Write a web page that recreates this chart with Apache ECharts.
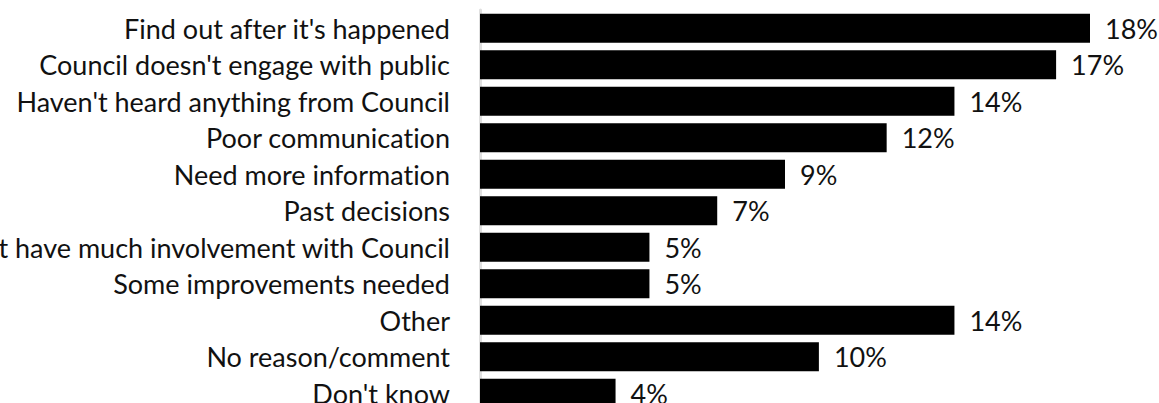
<!DOCTYPE html>
<html>
<head>
<meta charset="utf-8">
<script src="https://cdn.jsdelivr.net/npm/echarts@6/dist/echarts.min.js"></script>
<style>
  html, body { margin: 0; padding: 0; background: #fff; }
  #chart { width: 1159px; height: 403px; }
  /* keep "ti" / "fi" as separate letters */
  #chart svg text { font-variant-ligatures: none; }
</style>
</head>
<body>
<div id="chart"></div>
<script>
// Reasons given, listed top to bottom
const categories = [
  "Find out after it's happened",
  "Council doesn't engage with public",
  "Haven't heard anything from Council",
  "Poor communication",
  "Need more information",
  "Past decisions",
  "Don't have much involvement with Council",
  "Some improvements needed",
  "Other",
  "No reason/comment",
  "Don't know"
];
// Share of respondents (%)
const percentages = [18, 17, 14, 12, 9, 7, 5, 5, 14, 10, 4];

const FONT = 'Lato, "Noto Sans", sans-serif';
const FONT_SIZE = 27;
// extra bottom padding lifts the text slightly so it sits centred on each bar
const TEXT_PADDING = [0, 0, 6, 0];

const chart = echarts.init(document.getElementById('chart'), null, { renderer: 'svg' });
chart.setOption({
  animation: false,
  backgroundColor: '#ffffff',
  grid: {
    left: 480, right: 69, top: 10, height: 401.5,
    containLabel: false,
    outerBoundsMode: 'none'
  },
  xAxis: {
    type: 'value',
    min: 0,
    max: 18,
    show: false
  },
  yAxis: {
    type: 'category',
    data: categories,
    inverse: true,
    axisLine: { show: true, lineStyle: { color: '#e0e0e0', width: 3 } },
    axisTick: { show: false },
    splitLine: { show: false },
    axisLabel: {
      color: '#111111',
      fontFamily: FONT,
      fontSize: FONT_SIZE,
      padding: TEXT_PADDING,
      margin: 30
    }
  },
  series: [{
    type: 'bar',
    data: percentages,
    barCategoryGap: '20.5%',
    itemStyle: { color: '#000000' },
    label: {
      show: true,
      position: 'right',
      distance: 15,
      color: '#111111',
      fontFamily: FONT,
      fontSize: FONT_SIZE,
      padding: TEXT_PADDING,
      formatter: p => p.value + '%'
    }
  }]
});
</script>
</body>
</html>
